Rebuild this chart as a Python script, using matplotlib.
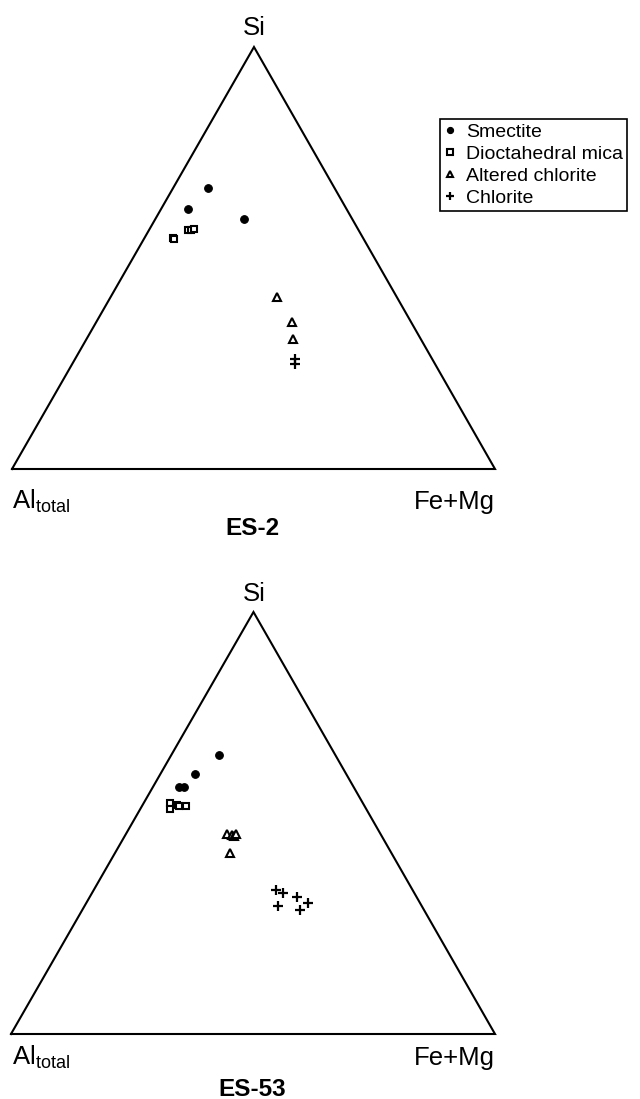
import matplotlib
matplotlib.use("Agg")
import matplotlib.pyplot as plt
from matplotlib.lines import Line2D

plt.rcParams['font.family'] = ['Liberation Sans', 'DejaVu Sans']
plt.rcParams['mathtext.fontset'] = 'custom'
plt.rcParams['mathtext.rm'] = 'Liberation Sans'
plt.rcParams['mathtext.it'] = 'Liberation Sans:italic'
plt.rcParams['mathtext.bf'] = 'Liberation Sans:bold'

# ---- data: ternary compositions (Si fraction, Fe+Mg fraction); Al = 1 - Si - FeMg
series_names = ["Smectite", "Dioctahedral mica", "Altered chlorite", "Chlorite"]

es2_smectite_si = [0.665, 0.615, 0.592]
es2_smectite_femg = [0.073, 0.057, 0.184]
es2_mica_si = [0.548, 0.545, 0.566, 0.566, 0.569]
es2_mica_femg = [0.058, 0.062, 0.081, 0.087, 0.092]
es2_altchl_si = [0.407, 0.349, 0.307]
es2_altchl_femg = [0.345, 0.405, 0.428]
es2_chl_si = [0.261, 0.249]
es2_chl_femg = [0.455, 0.461]

es53_smectite_si = [0.661, 0.616, 0.585, 0.585]
es53_smectite_femg = [0.099, 0.072, 0.055, 0.065]
es53_mica_si = [0.547, 0.533, 0.543, 0.540, 0.540]
es53_mica_femg = [0.055, 0.062, 0.070, 0.077, 0.092]
es53_altchl_si = [0.474, 0.472, 0.469, 0.474, 0.429]
es53_altchl_femg = [0.209, 0.221, 0.226, 0.228, 0.238]
es53_chl_si = [0.341, 0.334, 0.325, 0.310, 0.303, 0.294]
es53_chl_femg = [0.377, 0.395, 0.429, 0.458, 0.400, 0.450]

W, H = 640, 1099
fig = plt.figure(figsize=(W / 100, H / 100), dpi=100)

def fx(px):
    return px / W

def fy(py):
    return 1 - py / H

APEX = 0.501

def tern(si, femg):
    x = [f + APEX * s for s, f in zip(si, femg)]
    return x, list(si)

styles = [
    dict(marker='o', ms=5.5, mfc='black', mec='black', mew=0.8),
    dict(marker='s', ms=5.0, mfc='white', mec='black', mew=1.5),
    dict(marker='^', ms=5.5, mfc='white', mec='black', mew=1.5),
    dict(marker='+', ms=7.0, mfc='none', mec='black', mew=1.6),
]

def panel(rect, groups):
    ax = fig.add_axes(rect)
    ax.set_xlim(0, 1)
    ax.set_ylim(0, 1)
    ax.axis('off')
    ax.plot([0, APEX, 1, 0], [0, 1, 0, 0], color='black', lw=1.5,
            clip_on=False, solid_joinstyle='miter')
    for (si, femg), st in zip(groups, styles):
        x, y = tern(si, femg)
        ax.plot(x, y, ls='none', clip_on=False, **st)
    return ax

panel([fx(12), fy(469), fx(495) - fx(12), fy(47) - fy(469)],
      [(es2_smectite_si, es2_smectite_femg), (es2_mica_si, es2_mica_femg),
       (es2_altchl_si, es2_altchl_femg), (es2_chl_si, es2_chl_femg)])
panel([fx(11), fy(1034), fx(495) - fx(11), fy(612) - fy(1034)],
      [(es53_smectite_si, es53_smectite_femg), (es53_mica_si, es53_mica_femg),
       (es53_altchl_si, es53_altchl_femg), (es53_chl_si, es53_chl_femg)])

LS = 18.5
for si_base, lab_base, title, tb in [(35, 509, "ES-2", 535), (601, 1065, "ES-53", 1096)]:
    fig.text(fx(254), fy(si_base), "Si", ha='center', va='baseline', fontsize=LS)
    fig.text(fx(12), fy(lab_base), r'Al$_{\rm total}$', ha='left', va='baseline', fontsize=LS)
    fig.text(fx(495), fy(lab_base), "Fe+Mg", ha='right', va='baseline', fontsize=LS)
    fig.text(fx(252), fy(tb), title, ha='center', va='baseline', fontsize=17.5,
             fontweight='bold')

handles = [Line2D([], [], ls='none', **dict(st, ms=st['ms'] * 0.8)) for st in styles]
leg = fig.legend(handles, series_names, loc='upper left',
                 bbox_to_anchor=(fx(440), fy(119)), fontsize=14,
                 frameon=True, fancybox=False, edgecolor='black',
                 handlelength=0.6, handletextpad=0.5, labelspacing=0.22,
                 borderpad=0.22, borderaxespad=0, framealpha=1)
leg.get_frame().set_linewidth(1.2)

fig.savefig("out.png", dpi=100)
